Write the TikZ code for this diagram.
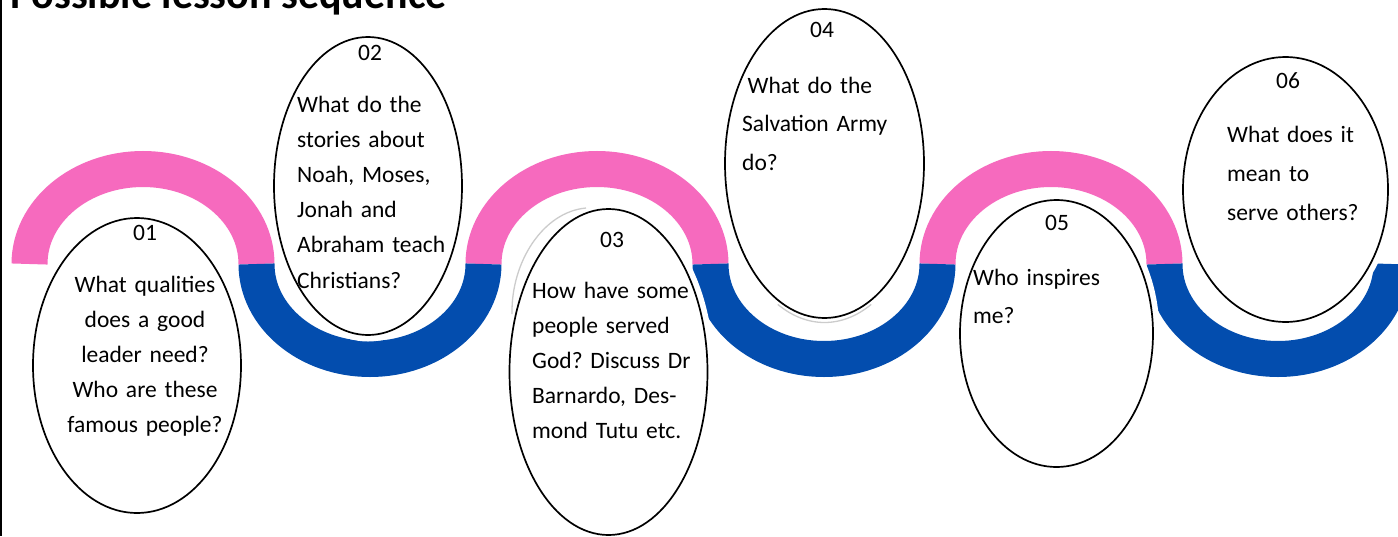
\documentclass[tikz,border=0pt]{standalone}
\usepackage{fontspec}
\setmainfont{Carlito}
\usetikzlibrary{shapes.geometric}
\definecolor{bandpink}{RGB}{246,106,190}
\definecolor{bandblue}{RGB}{3,77,174}
\frenchspacing
\begin{document}
\begin{tikzpicture}[x=1pt,y=-1pt,
  pinkband/.style={draw=bandpink, line width=36pt},
  blueband/.style={draw=bandblue, line width=36pt},
  bubble/.style={ellipse, draw=black, line width=1.7pt, fill=white, inner sep=0pt, outer sep=0pt,
                 preaction={draw=white, line width=13pt}},
  shadowline/.style={draw=black!20, line width=1.3pt},
  bodytext/.style={font=\fontsize{23.5}{35}\selectfont, inner sep=0pt, anchor=base west, text width=230pt, align=left},
  numtext/.style={font=\fontsize{23.5}{28}\selectfont, inner sep=0pt, anchor=base}]
\useasboundingbox (0,0) rectangle (1398,536);
\fill[white] (0,0) rectangle (1398,536);
% left border
\coordinate (bt) at (1,0);
\coordinate (bb) at (1,536);
\draw[line width=2pt] (bt) -- (bb);
% wave bands
\foreach \cx in {143,597,1051}
  \draw[pinkband] (\cx-113.5,264) arc[start angle=180, end angle=360, x radius=113.5, y radius=95];
\foreach \cx in {370,824,1278}
  \draw[blueband] (\cx-113.5,264) arc[start angle=180, end angle=0, x radius=113.5, y radius=95];
% title
\node[anchor=base west, inner sep=0pt, font=\bfseries\fontsize{42}{42}\selectfont] (title) at (10,8) {Possible lesson sequence};
% bubbles
\node[bubble, minimum width=208pt, minimum height=295pt] (e1) at (137,365.5) {};
\node[bubble, minimum width=188pt, minimum height=298pt] (e2) at (368,186) {};
\node[bubble, minimum width=198pt, minimum height=326pt] (e3) at (608.5,372) {};
\node[bubble, minimum width=199pt, minimum height=309pt] (e4) at (824.5,163.5) {};
\node[bubble, minimum width=193pt, minimum height=267pt] (e5) at (1056.5,333.5) {};
\node[bubble, minimum width=205pt, minimum height=265pt] (e6) at (1285.5,189.5) {};
% faint shadows
\coordinate (s3a) at (512,314);
\coordinate (s3b) at (586,208);
\draw[shadowline] (s3a) .. controls (511,262) and (543,212) .. (s3b);
\draw[shadowline] (824.5,168) ++(62:99.5 and 154.5) arc[start angle=62, end angle=118, x radius=99.5, y radius=154.5];
% texts
\node[numtext] (n1) at (145,240) {01};
\node[bodytext, text width=220pt, align=center, anchor=base] (t1) at (145,292)
  {What qualities\\does a good\\leader need?\\Who are these\\famous people?};
\node[numtext] (n2) at (370,60) {02};
\node[bodytext, font=\fontsize{23.5}{35.2}\selectfont] (t2) at (297,112)
  {What do the\\stories about\\Noah, Moses,\\Jonah and\\Abraham teach\\Christians?};
\node[numtext] (n3) at (612,247) {03};
\node[bodytext] (t3) at (532,298)
  {How have some\\people served\\God? Discuss Dr\\Barnardo, Des-\\mond Tutu etc.};
\node[numtext] (n4) at (822,37) {04};
\node[bodytext, font=\fontsize{23.5}{38.5}\selectfont] (t4) at (742,93)
  {\hspace*{0.23em}What do the\\Salvation Army\\do?};
\node[numtext] (n5) at (1057,230) {05};
\node[bodytext, font=\fontsize{23.5}{38}\selectfont] (t5) at (973,285)
  {Who inspires\\me?};
\node[numtext] (n6) at (1288,88) {06};
\node[bodytext, font=\fontsize{23.5}{39}\selectfont] (t6) at (1227,142)
  {What does it\\mean to\\serve others?};
\end{tikzpicture}
\end{document}
